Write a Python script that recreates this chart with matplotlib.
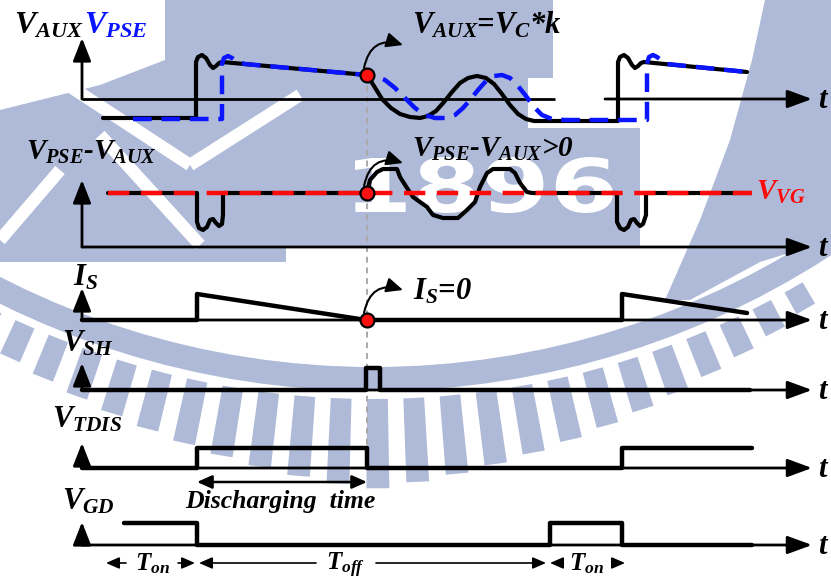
import numpy as np
import matplotlib.pyplot as plt
from matplotlib.patches import Polygon, Wedge, PathPatch, FancyArrowPatch, Rectangle
from matplotlib.textpath import TextPath
from matplotlib.font_manager import FontProperties
from matplotlib.transforms import Affine2D

plt.rcParams['mathtext.fontset'] = 'custom'
plt.rcParams['mathtext.it'] = 'Liberation Serif:italic:bold'
plt.rcParams['mathtext.rm'] = 'Liberation Serif:bold'
plt.rcParams['mathtext.bf'] = 'Liberation Serif:bold'

# ---------------- waveforms (t = time, v = level above the trace's time axis) ----
aux_t = [103, 196, 196, 198, 202, 206, 210, 213, 216, 219, 222,
         367, 374, 382, 391, 400, 410, 420, 428, 436, 444,
         452, 460, 468, 477, 486, 494, 502, 510, 518, 526,
         534, 618, 618, 620, 624, 628, 632, 635, 638, 641, 644, 747]
aux_v = [-19, -19, 37, 42, 44, 41, 34, 31, 33, 36, 37,
         24, 13, 0, -9, -15, -18, -19, -17, -12, -3,
         7, 16, 21, 23, 21, 15, 5, -6, -15, -20,
         -22, -22, 37, 42, 44, 41, 34, 31, 33, 36, 37, 27]

pse_t = [133, 222, 222, 224, 228, 232, 236, 245,
         367, 375, 385, 395, 405, 415, 425, 435, 445, 455,
         463, 470, 478, 486, 494, 502, 510, 518, 526, 534,
         542, 552, 565, 647, 647, 649, 653, 657, 661, 667, 747]
pse_v = [-20, -20, 35, 41, 43, 41, 38, 35,
         24, 23, 19, 11, 1, -9, -16, -19, -19, -16,
         -9, -1, 9, 18, 23, 24, 21, 13, 3, -8,
         -16, -20, -21, -21, 35, 42, 44, 42, 39, 35, 27]

diff_t = [108, 197, 197, 199, 203, 207, 210, 213, 216, 219, 222, 223, 223,
          367, 370, 377, 383, 397, 400, 407, 413, 427, 433, 443, 458,
          467, 475, 480, 487, 493, 510, 515, 520, 527, 532,
          617, 617, 620, 624, 628, 631, 634, 637, 640, 643, 646, 646, 750]
diff_v = [54, 54, 25, 19, 17, 20, 27, 28, 24, 21, 23, 32, 54,
          54, 67, 75, 78, 78, 70, 59, 50, 40, 32, 29, 29,
          37, 45, 60, 74, 78, 78, 74, 64, 55, 54,
          54, 25, 19, 17, 20, 27, 28, 24, 21, 23, 32, 54, 54]

vg_t = [108, 752]
vg_v = [54, 54]

is_t = [82, 197, 197, 366, 622, 622, 747]
is_v = [0, 0, 26, 0, 0, 26, 7]

sh_t = [82, 366, 366, 380, 380, 750]
sh_v = [0, 0, 22, 22, 0, 0]

tdis_t = [82, 197, 197, 367, 367, 622, 622, 752]
tdis_v = [0, 0, 20, 20, 0, 0, 20, 20]

gd_t = [124, 197, 197, 550, 550, 622, 622, 752]
gd_v = [22, 22, 0, 0, 22, 22, 0, 0]

t_event = 367          # V_AUX crosses V_C*k, I_S reaches zero
dis_span = [197, 367]  # discharging time

# (name, start, end, label position, half gap round the label)
periods = [('on', 106, 195, 152, 26), ('off', 199, 546, 346, 30), ('on', 550, 625, 586, 26)]

# ---------------- layout ----------------
X0, X1 = 82, 812
base = {'aux': 99, 'diff': 247, 'is': 320, 'sh': 390, 'tdis': 468, 'gd': 545}
ytop = {'aux': 38, 'diff': 180, 'is': 288, 'sh': 363, 'tdis': 443, 'gd': 522}
WM = '#aebad8'
LAB = dict(family='Liberation Serif', weight='bold', style='italic')

fig = plt.figure(figsize=(8.31, 5.82), dpi=100)
ax = fig.add_axes([0, 0, 1, 1])
ax.set_xlim(0, 831)
ax.set_ylim(582, 0)
ax.axis('off')


def arrow(p0, p1, lw=2.0, hl=14, hw=5, style='-|>', z=3, **kw):
    ax.add_patch(FancyArrowPatch(p0, p1, arrowstyle=f'{style},head_length={hl},head_width={hw}',
                                 mutation_scale=1, lw=lw, color='k', shrinkA=0, shrinkB=0,
                                 zorder=z, **kw))


def trace(t, v, key, **kw):
    b = base[key]
    ax.plot(t, [b - x for x in v], solid_joinstyle='round', solid_capstyle='round', **kw)


# ---------------- background emblem ----------------
ax.add_patch(Polygon([(165, 0), (553, 0), (553, 78), (528, 78), (528, 128), (640, 128),
                      (640, 246), (286, 246), (286, 262), (0, 262), (0, 110),
                      (100, 85), (165, 60)], fc=WM, ec='none', zorder=0))
ax.add_patch(Polygon([(765, 0), (831, 0), (831, 240), (760, 262), (690, 300), (665, 300),
                      (700, 220), (730, 140), (752, 60)], fc=WM, ec='none', zorder=0))
cx, cy = 373, -450
ax.add_patch(Wedge((cx, cy), 841, 20, 160, width=24, fc=WM, ec='none', zorder=0))
for phi in np.arange(-30, 36, 2.45) + 0.3:
    r1 = 849
    r2 = 939 - 2.2 * abs(phi)
    a0, a1 = np.radians(90 + phi - 0.7), np.radians(90 + phi + 0.7)
    pts = [(cx + r1 * np.cos(a0), cy + r1 * np.sin(a0)), (cx + r2 * np.cos(a0), cy + r2 * np.sin(a0)),
           (cx + r2 * np.cos(a1), cy + r2 * np.sin(a1)), (cx + r1 * np.cos(a1), cy + r1 * np.sin(a1))]
    ax.add_patch(Polygon(pts, fc=WM, ec='none', zorder=0))
for (xa, ya), (xb, yb) in [((60, 80), (190, 165)), ((190, 165), (300, 95)),
                           ((100, 135), (200, 245)), ((0, 240), (60, 170))]:
    ax.plot([xa, xb], [ya, yb], color='white', lw=9, solid_capstyle='butt', zorder=0.5)
tp = TextPath((0, 0), '1896', size=1, prop=FontProperties(family='DejaVu Sans', weight='bold'))
ext = tp.get_extents()
tr = Affine2D().translate(-ext.x0, -ext.y0).scale(258 / ext.width, -56 / ext.height).translate(355, 213)
ax.add_patch(PathPatch(tr.transform_path(tp), fc='white', ec='none', zorder=0.5))
ax.add_patch(Rectangle((528, 78), 77, 47, fc='white', ec='none', zorder=1))

# ---------------- time axes ----------------
for key in base:
    b = base[key]
    arrow((X0, b), (X0, ytop[key]), hl=14, hw=5.5)
    if key == 'aux':
        ax.plot([X0, 555], [b, b], color='k', lw=2.0, solid_capstyle='butt', zorder=3)
        arrow((605, b), (X1, b), hl=15, hw=5.5)
    else:
        arrow((X0, b), (X1, b), hl=15, hw=5.5)
    ax.text(818, b + 9, 't', fontsize=22, color='k', **LAB, zorder=7)

# event marker line
ax.plot([t_event, t_event], [base['aux'] - 24, base['tdis'] - 21], color='#a9a9a9', lw=1.4,
        dashes=(3, 2.5), zorder=2)

# ---------------- signals ----------------
trace(aux_t, aux_v, 'aux', color='k', lw=3.0, zorder=4)
trace(pse_t, pse_v, 'aux', color='#0a14ff', lw=3.2, dashes=(4.2, 2.2), zorder=5)
trace(diff_t, diff_v, 'diff', color='k', lw=3.0, zorder=4)
trace(vg_t, vg_v, 'diff', color='#ff0a0a', lw=3.2, dashes=(4.8, 2.6), zorder=5)
trace(is_t, is_v, 'is', color='k', lw=3.2, zorder=4)
trace(sh_t, sh_v, 'sh', color='k', lw=3.2, zorder=4)
trace(tdis_t, tdis_v, 'tdis', color='k', lw=3.2, zorder=4)
trace(gd_t, gd_v, 'gd', color='k', lw=3.2, zorder=4)

# event dots and callouts
lvl_aux = np.interp(t_event, aux_t[:12], aux_v[:12])
for y0 in [base['aux'] - lvl_aux, base['diff'] - vg_v[0], base['is']]:
    ax.plot(t_event, y0, 'o', ms=10, mfc='#ff1010', mec='k', mew=1.6, zorder=6)
    arrow((t_event - 3, y0 - 7), (t_event + 36, y0 - 30), lw=1.5, hl=10, hw=4.5, z=6,
          connectionstyle='arc3,rad=-0.55')

# ---------------- labels ----------------
ax.text(14, 33, r'$V_{AUX}$', fontsize=23, color='k', **LAB)
ax.text(84, 33, r'$V_{PSE}$', fontsize=23, color='#0a14ff', **LAB)
ax.text(412, 33, r'$V_{AUX}$=$V_{C}$*k', fontsize=22, color='k', **LAB)
ax.text(26, 160, r'$V_{PSE}$-$V_{AUX}$', fontsize=21, color='k', **LAB)
ax.text(412, 157, r'$V_{PSE}$-$V_{AUX}$>0', fontsize=21, color='k', **LAB)
ax.text(756, 200, r'$V_{VG}$', fontsize=21, color='#ff0a0a', **LAB)
ax.text(73, 285, r'$I_{S}$', fontsize=22, color='k', **LAB)
ax.text(413, 300, r'$I_{S}$=0', fontsize=22, color='k', **LAB)
ax.text(62, 352, r'$V_{SH}$', fontsize=22, color='k', **LAB)
ax.text(52, 427, r'$V_{TDIS}$', fontsize=22, color='k', **LAB)
ax.text(62, 510, r'$V_{GD}$', fontsize=22, color='k', **LAB)

# discharging interval
arrow((dis_span[0], 482), (dis_span[1], 482), lw=1.8, hl=9, hw=4, style='<|-|>')
ax.text(sum(dis_span) / 2 - 2, 508, 'Discharging  time', fontsize=18.5, ha='center', **LAB)

# switching periods under the gate drive
yb = 563
for name, a, b, xl, gap in periods:
    arrow((xl - gap, yb), (a, yb), lw=1.2, hl=8, hw=3.5)
    arrow((xl + gap, yb), (b, yb), lw=1.2, hl=8, hw=3.5)
    ax.text(xl, yb + 7, rf'$T_{{{name}}}$', fontsize=18, ha='center', **LAB)

fig.savefig('out.png', dpi=100)
